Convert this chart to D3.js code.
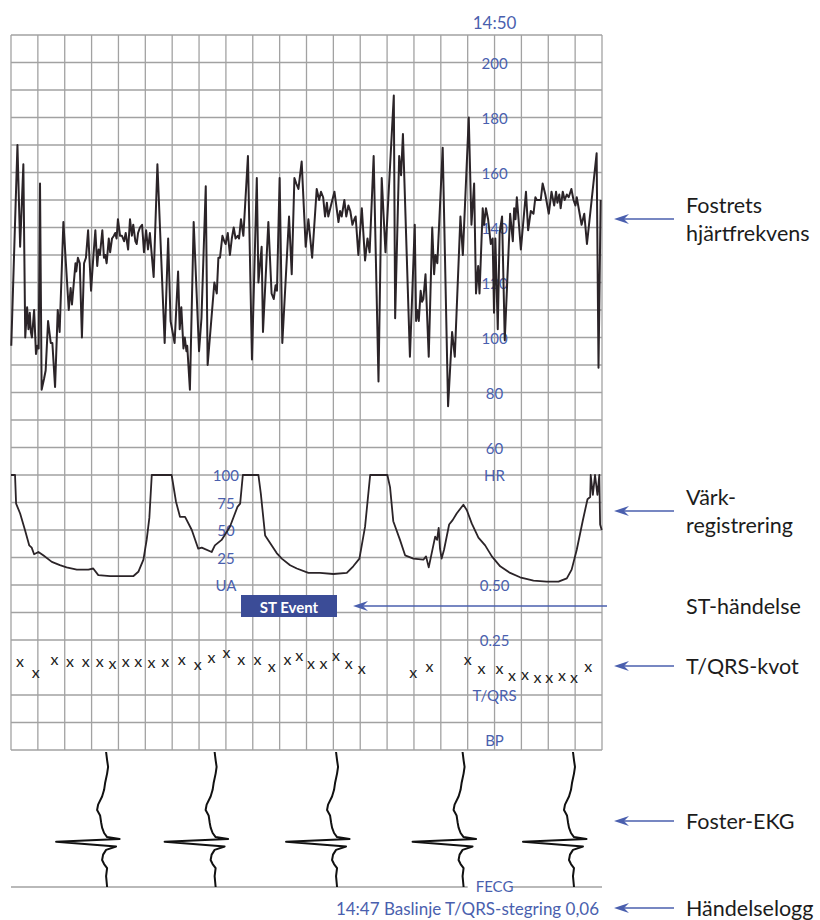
<!DOCTYPE html>
<html>
<head>
<meta charset="utf-8">
<script src="https://cdn.jsdelivr.net/npm/d3@7"></script>
<style>
  body { margin: 0; background: #fff; }
  text { font-family: Lato, "Open Sans", sans-serif; }
</style>
</head>
<body>
<div id="chart"></div>
<script>
// all times are minutes after 14:32
var startTime = new Date(2020, 0, 1, 14, 32);

var hrTime = [0.01, 0.24, 0.34, 0.46, 0.53, 0.60, 0.65, 0.70, 0.74, 0.78, 0.86, 0.93, 0.98, 1.03, 1.08, 1.14, 1.23, 1.29,
  1.38, 1.48, 1.54, 1.64, 1.74, 1.81, 1.95, 2.15, 2.22, 2.27, 2.40, 2.43, 2.49, 2.56, 2.64, 2.72, 2.79, 2.87, 2.98,
  3.07, 3.14, 3.21, 3.26, 3.31, 3.40, 3.46, 3.51, 3.56, 3.64, 3.69, 3.76, 3.83, 3.88, 3.93, 3.98, 4.06, 4.13, 4.21,
  4.27, 4.36, 4.43, 4.50, 4.55, 4.63, 4.68, 4.73, 4.80, 4.88, 4.95, 5.03, 5.10, 5.17, 5.31, 5.45, 5.72, 5.85, 5.94,
  6.09, 6.22, 6.28, 6.34, 6.42, 6.47, 6.53, 6.56, 6.66, 6.80, 7.00, 7.09, 7.25, 7.32, 7.57, 7.66, 7.72, 7.78, 7.87,
  7.94, 7.99, 8.07, 8.15, 8.22, 8.29, 8.36, 8.44, 8.49, 8.56, 8.65, 8.82, 8.97, 9.15, 9.21, 9.33, 9.38, 9.58, 9.70,
  9.78, 9.85, 9.90, 10.00, 10.10, 10.35, 10.45, 10.55, 10.62, 10.70, 10.82, 10.97, 11.07, 11.21, 11.38, 11.47, 11.54,
  11.62, 11.69, 11.76, 11.81, 11.91, 12.04, 12.19, 12.25, 12.31, 12.41, 12.48, 12.56, 12.63, 12.71, 12.78, 12.83,
  12.93, 13.06, 13.18, 13.27, 13.35, 13.50, 13.68, 13.80, 13.94, 14.25, 14.30, 14.45, 14.52, 14.59, 14.85, 15.03,
  15.08, 15.13, 15.18, 15.25, 15.30, 15.35, 15.43, 15.55, 15.68, 15.75, 15.80, 15.87, 16.07, 16.27, 16.42, 16.52,
  16.73, 16.82, 17.04, 17.14, 17.24, 17.31, 17.39, 17.44, 17.56, 17.61, 17.68, 17.76, 17.86, 17.93, 17.98, 18.03,
  18.12, 18.19, 18.28, 18.38, 18.58, 18.68, 18.73, 18.78, 18.83, 18.98, 19.17, 19.25, 19.35, 19.45, 19.52, 19.57,
  19.65, 19.72, 19.79, 19.89, 20.02, 20.12, 20.22, 20.29, 20.34, 20.41, 20.46, 20.54, 20.61, 20.69, 20.76, 20.86,
  20.94, 21.01, 21.06, 21.24, 21.34, 21.44, 21.80, 21.87, 21.95];
var hrValues = [97, 170, 133, 163, 100, 111, 103, 109, 102, 100, 110, 94, 97, 96, 156, 81, 85, 88,
  106, 98, 98, 82, 110, 102, 142, 110, 118, 112, 127, 124, 129, 127, 100, 127, 129, 139, 117,
  130, 139, 126, 132, 130, 139, 129, 130, 127, 136, 131, 136, 137, 138, 136, 143, 137, 137, 135,
  138, 132, 143, 137, 141, 135, 134, 138, 140, 141, 131, 139, 132, 138, 122, 163, 98, 136, 106,
  98, 124, 103, 111, 96, 100, 95, 97, 81, 142, 95, 107, 155, 90, 120, 116, 129, 129, 137,
  135, 134, 138, 130, 136, 140, 136, 137, 136, 143, 137, 166, 92, 158, 120, 133, 102, 142, 116,
  114, 119, 117, 158, 98, 144, 123, 158, 156, 154, 164, 133, 143, 129, 154, 150, 153,
  151, 144, 149, 144, 148, 153, 142, 146, 144, 150, 144, 148, 146, 141, 143, 144,
  130, 147, 128, 136, 131, 166, 84, 158, 131, 188, 107, 166, 159, 174, 93, 141,
  106, 110, 106, 117, 113, 114, 123, 93, 140, 123, 130, 127, 169, 75, 102, 93,
  144, 130, 180, 141, 156, 116, 126, 116, 147, 141, 147, 143, 134, 136, 109, 136,
  103, 138, 144, 99, 145, 135, 147, 143, 151, 132, 153, 139, 146, 145, 151, 150,
  150, 150, 156, 152, 145, 153, 148, 153, 149, 152, 147, 153, 150, 152, 151, 154,
  150, 148, 151, 141, 145, 134, 167, 89, 150];

var uaTime = [0, 0.15, 0.19, 0.34, 0.52, 0.68, 0.77, 0.86, 1.02, 1.20, 1.52, 1.82, 2.07, 2.45, 2.88, 3.06, 3.25,
  3.69, 4.18, 4.55, 4.74, 4.93, 5.05, 5.15, 5.24, 5.42, 5.98, 6.14, 6.29, 6.48, 6.73, 6.97, 7.10, 7.47, 7.59,
  7.84, 8.15, 8.43, 8.53, 8.63, 9.21, 9.30, 9.46, 9.62, 9.89, 10.08, 10.39, 10.64, 11.07, 11.50, 12.00, 12.50,
  12.74, 12.97, 13.18, 13.37, 14.01, 14.11, 14.23, 14.48, 14.67, 14.98, 15.35, 15.45, 15.55, 15.79, 15.86,
  15.92, 15.97, 16.03, 16.12, 16.31, 16.44, 16.59, 16.84, 16.97, 17.15, 17.40, 17.65, 17.90, 18.21, 18.58,
  18.95, 19.45, 19.94, 20.38, 20.69, 20.87, 21.06, 21.28, 21.46, 21.56, 21.58, 21.66, 21.74, 21.83, 21.90,
  21.93, 21.99];
var uaValues = [100, 100, 74, 65, 50, 36, 34, 28, 30, 27, 21, 18, 16, 14, 14, 15, 9,
  8, 8, 8, 12, 23, 41, 61, 100, 100, 100, 76, 62, 62, 50, 33, 34, 30, 36,
  41, 53, 71, 74, 100, 100, 83, 45, 39, 29, 24, 18, 15, 11, 11, 10, 11,
  17, 24, 53, 100, 100, 89, 58, 41, 27, 24, 23, 26, 16, 44, 41,
  52, 33, 24, 32, 55, 59, 65, 73, 68, 56, 43, 36, 26, 17, 11,
  7, 4, 3, 3, 6, 14, 32, 58, 78, 80, 100, 82, 100, 82, 100,
  55, 50];

var tqrsTime = [0.33, 0.92, 1.62, 2.20, 2.78, 3.30, 3.78, 4.27, 4.74, 5.23, 5.74, 6.36, 6.95, 7.46, 8.02, 8.57,
  9.18, 9.71, 10.29, 10.73, 11.17, 11.63, 12.10, 12.57, 13.06, 14.97, 15.58, 17.00, 17.51, 18.18, 18.65, 19.13,
  19.60, 20.04, 20.51, 20.96, 21.49];
var tqrsValues = [0.156, 0.109, 0.167, 0.156, 0.156, 0.156, 0.149, 0.156, 0.159, 0.151, 0.156, 0.167, 0.144, 0.177,
  0.197, 0.167, 0.167, 0.133, 0.167, 0.185, 0.147, 0.147, 0.182, 0.147, 0.126, 0.106, 0.132, 0.167, 0.124, 0.124,
  0.095, 0.099, 0.086, 0.086, 0.091, 0.083, 0.132];

// fetal ECG: where each averaged complex sits, and the complex shape (time 0..1 down the strip)
var ecgComplexTime = [3.54, 7.58, 12.10, 16.81, 20.92];
var ecgShapeT = [0, 0.06, 0.11, 0.16, 0.23, 0.28, 0.33, 0.39, 0.43, 0.47, 0.52, 0.56, 0.60, 0.63, 0.645, 0.665,
  0.70, 0.725, 0.76, 0.80, 0.83, 0.86, 0.92, 1];
var ecgShapeAmp = [0, 0.02, 0.04, 0.02, -0.02, -0.04, -0.08, -0.16, -0.18, -0.12, -0.1, -0.08, -0.04, 0.02, 0.27, -1,
  0.2, 0, -0.06, -0.08, -0.04, 0.02, 0, 0.02];

var hrTicks = [200, 180, 160, 140, 120, 100, 80, 60];
var uaTicks = [100, 75, 50, 25];
var tqrsTicks = [0.50, 0.25];
var markTime = 18; // 14:50
var eventLog = "14:47 Baslinje T/QRS-stegring 0,06";

var width = 820, height = 920;
var blue = '#4a5fae', ink = '#2b2428';

var svg = d3.select('#chart').append('svg')
  .attr('width', width)
  .attr('height', height);

var x = d3.scaleLinear().domain([0, 22]).range([11, 602]);
var row = d3.scaleLinear().domain([0, 26]).range([35, 750]);
var hrY = d3.scaleLinear().domain([210, 60]).range([row(0), row(15)]);
var uaY = d3.scaleLinear().domain([100, 0]).range([row(16), row(20)]);
var tqrsY = d3.scaleLinear().domain([0.5, 0]).range([row(20), row(24)]);
var ecgY = d3.scaleLinear().domain([0, 1]).range([752, 887]);
var ecgAmp = d3.scaleLinear().domain([-1, 1]).range([-50, 50]);
var fmt = d3.timeFormat('%H:%M');

// Paper grid (the row through the T/QRS crosses is left out, as on the strip)
var grid = svg.append('g').attr('stroke', '#a2a2a2').attr('stroke-width', 1.3);
grid.selectAll('.v').data(d3.range(0, 23)).enter().append('line')
  .attr('x1', function(d) { return x(d); })
  .attr('x2', function(d) { return x(d); })
  .attr('y1', row(0)).attr('y2', row(26));
grid.selectAll('.h').data(d3.range(0, 27).filter(function(r) { return r !== 23; })).enter().append('line')
  .attr('x1', x(0)).attr('x2', x(22))
  .attr('y1', function(d) { return row(d); })
  .attr('y2', function(d) { return row(d); });

// bottom of the ECG strip, broken for the FECG label
svg.append('line').attr('x1', x(0)).attr('x2', x(17.0)).attr('y1', 887).attr('y2', 887)
  .attr('stroke', '#a2a2a2').attr('stroke-width', 1.3);
svg.append('line').attr('x1', x(18.65)).attr('x2', x(22)).attr('y1', 887).attr('y2', 887)
  .attr('stroke', '#a2a2a2').attr('stroke-width', 1.3);

// Scale labels
var labels = svg.append('g').attr('fill', blue).attr('font-size', 15)
  .attr('text-anchor', 'middle').attr('dominant-baseline', 'central');
labels.selectAll('.hr').data(hrTicks).enter().append('text')
  .attr('x', x(markTime)).attr('y', function(d) { return hrY(d); })
  .text(function(d) { return d; });
labels.append('text').attr('x', x(markTime)).attr('y', row(16)).text('HR');
labels.selectAll('.ua').data(uaTicks).enter().append('text')
  .attr('x', x(8)).attr('y', function(d) { return uaY(d); })
  .text(function(d) { return d; });
labels.append('text').attr('x', x(8)).attr('y', row(20)).text('UA');
labels.selectAll('.tq').data(tqrsTicks).enter().append('text')
  .attr('x', x(markTime)).attr('y', function(d) { return tqrsY(d); })
  .text(function(d) { return d.toFixed(2); });
labels.append('text').attr('x', x(markTime)).attr('y', tqrsY(0)).text('T/QRS');
labels.append('text').attr('x', x(markTime)).attr('y', row(25.65)).text('BP');
labels.append('text').attr('x', x(markTime)).attr('y', 886).text('FECG');
labels.append('text').attr('x', x(markTime)).attr('y', 22).attr('font-size', 17)
  .text(fmt(d3.timeMinute.offset(startTime, markTime)));

// Heart rate
var hrData = hrTime.map(function(t, i) { return [t, hrValues[i]]; });
svg.append('path').datum(hrData)
  .attr('fill', 'none').attr('stroke', ink).attr('stroke-width', 2)
  .attr('stroke-linejoin', 'round')
  .attr('d', d3.line().x(function(d) { return x(d[0]); }).y(function(d) { return hrY(d[1]); }));

// Uterine activity
var uaData = uaTime.map(function(t, i) { return [t, uaValues[i]]; });
svg.append('path').datum(uaData)
  .attr('fill', 'none').attr('stroke', ink).attr('stroke-width', 1.8)
  .attr('stroke-linejoin', 'round')
  .attr('d', d3.line().x(function(d) { return x(d[0]); }).y(function(d) { return uaY(d[1]); }));

// T/QRS ratio crosses
svg.append('g').selectAll('text').data(tqrsTime).enter().append('text')
  .attr('x', function(d) { return x(d); })
  .attr('y', function(d, i) { return tqrsY(tqrsValues[i]); })
  .attr('text-anchor', 'middle').attr('dominant-baseline', 'central')
  .attr('font-size', 16).attr('fill', '#222')
  .text('x');

// ST event marker
svg.append('rect').attr('x', 241).attr('y', 595).attr('width', 96).attr('height', 22).attr('fill', '#3b4c97');
svg.append('text').attr('x', 289).attr('y', 606.5)
  .attr('text-anchor', 'middle').attr('dominant-baseline', 'central')
  .attr('fill', '#fff').attr('font-weight', 'bold').attr('font-size', 15)
  .text('ST Event');

// Fetal ECG complexes, drawn down the strip
var ecgLine = d3.line()
  .x(function(d) { return d[0]; })
  .y(function(d) { return d[1]; });
svg.append('g').selectAll('path').data(ecgComplexTime).enter().append('path')
  .attr('fill', 'none').attr('stroke', '#111').attr('stroke-width', 2)
  .attr('stroke-linejoin', 'round')
  .attr('d', function(c) {
    return ecgLine(ecgShapeT.map(function(t, i) {
      return [x(c) + ecgAmp(ecgShapeAmp[i]), ecgY(t)];
    }));
  });

// Event log
svg.append('text').attr('x', 599).attr('y', 908)
  .attr('text-anchor', 'end').attr('dominant-baseline', 'central')
  .attr('fill', blue).attr('font-size', 17)
  .text(eventLog);

// Callouts on the right
var callouts = [
  { y: 219, lines: ['Fostrets', 'hjärtfrekvens'], from: 674 },
  { y: 511, lines: ['Värk-', 'registrering'], from: 674 },
  { y: 606, lines: ['ST-händelse'], from: 607, to: 353 },
  { y: 666, lines: ['T/QRS-kvot'], from: 674 },
  { y: 821, lines: ['Foster-EKG'], from: 674 },
  { y: 908, lines: ['Händelselogg'], from: 674 }
];
var co = svg.append('g').selectAll('g').data(callouts).enter().append('g');
co.append('line')
  .attr('x1', function(d) { return (d.to || 614) + 9; })
  .attr('x2', function(d) { return d.from; })
  .attr('y1', function(d) { return d.y; }).attr('y2', function(d) { return d.y; })
  .attr('stroke', blue).attr('stroke-width', 1.5);
co.append('path')
  .attr('fill', blue)
  .attr('d', function(d) {
    var t = d.to || 614;
    return 'M' + t + ',' + d.y + 'L' + (t + 15) + ',' + (d.y - 5) + 'L' + (t + 10) + ',' + d.y +
      'L' + (t + 15) + ',' + (d.y + 5) + 'Z';
  });
co.each(function(d) {
  var n = d.lines.length;
  d3.select(this).selectAll('text').data(d.lines).enter().append('text')
    .attr('x', 686)
    .attr('y', function(s, i) { return d.y + (i - (n - 1) / 2) * 28; })
    .attr('dominant-baseline', 'central')
    .attr('font-size', 21.5).attr('fill', '#1c1c1c')
    .text(function(s) { return s; });
});
</script>
</body>
</html>
